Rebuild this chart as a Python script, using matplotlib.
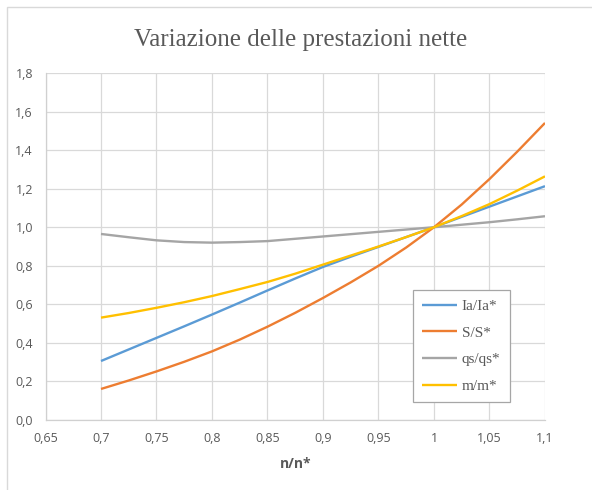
import matplotlib
matplotlib.use("Agg")
import matplotlib.pyplot as plt
from matplotlib.patches import Rectangle
from matplotlib.ticker import FuncFormatter, MultipleLocator

# ---- data ----
n_ratio = [0.700, 0.725, 0.750, 0.775, 0.800, 0.825, 0.850, 0.875, 0.900,
           0.925, 0.950, 0.975, 1.000, 1.025, 1.050, 1.075, 1.100]
la_ratio = [0.306, 0.366, 0.426, 0.486, 0.547, 0.609, 0.672, 0.734, 0.794,
            0.847, 0.898, 0.949, 1.000, 1.054, 1.107, 1.160, 1.213]
s_ratio = [0.161, 0.205, 0.252, 0.302, 0.356, 0.417, 0.484, 0.556, 0.633,
           0.714, 0.800, 0.895, 1.000, 1.118, 1.250, 1.392, 1.541]
qs_ratio = [0.965, 0.948, 0.932, 0.923, 0.920, 0.923, 0.928, 0.940, 0.952,
            0.964, 0.976, 0.988, 1.000, 1.013, 1.026, 1.041, 1.057]
m_ratio = [0.531, 0.555, 0.582, 0.611, 0.643, 0.679, 0.716, 0.759, 0.806,
           0.853, 0.900, 0.949, 1.000, 1.058, 1.120, 1.190, 1.264]
series_labels = ["Ia/Ia*", "S/S*", "qs/qs*", "m/m*"]
series_colors = ["#5B9BD5", "#ED7D31", "#A5A5A5", "#FFC000"]
title = "Variazione delle prestazioni nette"
x_label = "n/n*"

W, H = 592, 490
fig = plt.figure(figsize=(W / 100, H / 100), dpi=100)
fig.patch.set_facecolor("white")

# outer chart border (left & top visible)
fig.patches.append(Rectangle((7 / W, -0.05), 1.2, 1 - 7 / H + 0.05,
                             transform=fig.transFigure, fill=False,
                             edgecolor="#D9D9D9", linewidth=1.0))

ax = fig.add_axes([45.5 / W, 1 - 420 / H, (545 - 45.5) / W, (420 - 73) / H])

for ys, lab, col in zip([la_ratio, s_ratio, qs_ratio, m_ratio], series_labels, series_colors):
    ax.plot(n_ratio, ys, color=col, linewidth=1.7, label=lab, solid_capstyle="butt")

ax.set_xlim(0.65, 1.1)
ax.set_ylim(0.0, 1.8)
ax.xaxis.set_major_locator(MultipleLocator(0.05))
ax.yaxis.set_major_locator(MultipleLocator(0.2))
ax.xaxis.set_major_formatter(FuncFormatter(lambda v, p: f"{round(v, 2):g}".replace(".", ",")))
ax.yaxis.set_major_formatter(FuncFormatter(lambda v, p: f"{v:.1f}".replace(".", ",")))

ax.grid(True, color="#D9D9D9", linewidth=0.9)
ax.set_axisbelow(True)
for s in ["top", "right"]:
    ax.spines[s].set_visible(False)
for s in ["left", "bottom"]:
    ax.spines[s].set_color("#D0D0D0")
    ax.spines[s].set_linewidth(0.9)
ax.tick_params(length=0, labelsize=9, labelcolor="#595959", pad=9)
for lbl in ax.get_xticklabels() + ax.get_yticklabels():
    lbl.set_family("Open Sans")

ax.set_xlabel(x_label, fontsize=10, fontweight="bold", color="#595959",
              family="Open Sans", labelpad=8)

fig.text(301 / W, 1 - 40 / H, title, ha="center", va="center",
         fontsize=18, color="#595959", family="Liberation Serif")

leg = ax.legend(loc="upper left", bbox_to_anchor=((413 - 45.5) / (545 - 45.5), (420 - 290) / (420 - 73)),
                frameon=True, fancybox=False, framealpha=1, edgecolor="#A6A6A6",
                prop={"family": "Liberation Serif", "size": 11},
                handlelength=2.3, handletextpad=0.3, labelspacing=0.85,
                borderpad=0.6, borderaxespad=0)
leg.get_frame().set_linewidth(0.9)
for t in leg.get_texts():
    t.set_color("#595959")

fig.savefig("out.png", dpi=100, facecolor="white")
